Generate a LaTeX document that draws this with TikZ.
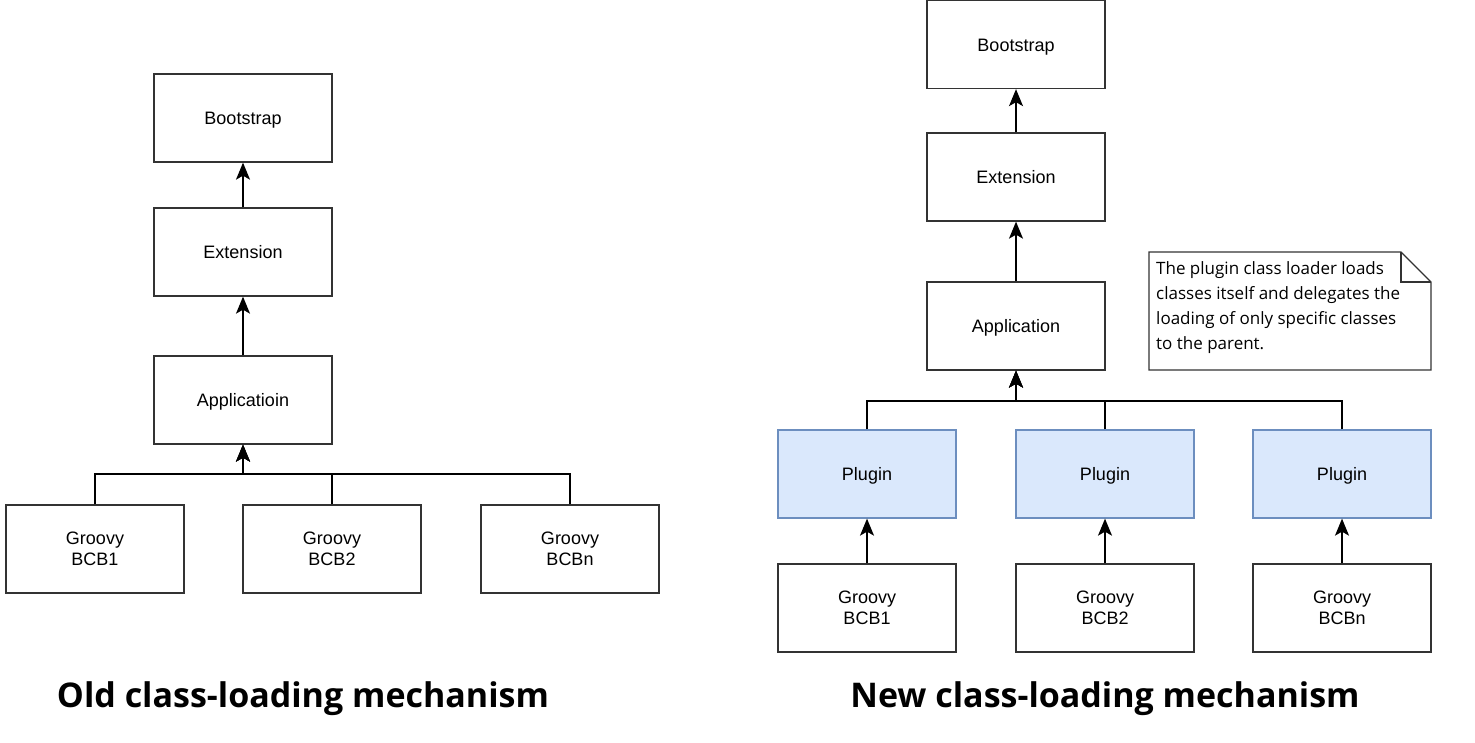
\documentclass[tikz,border=0pt]{standalone}
\usepackage{fontspec}
\setmainfont{Liberation Sans}
\newfontfamily\notefont{Open Sans}
\newfontfamily\titlefont{Open Sans}
\usetikzlibrary{arrows.meta,calc}
\begin{document}
\begin{tikzpicture}[x=1pt,y=-1pt,
  box/.style={draw=black!80,line width=1.3pt,minimum width=178pt,minimum height=88pt,inner sep=0pt,align=center,font=\fontsize{18}{21}\selectfont},
  one/.style={box,text height=13pt,text depth=0pt},
  plug/.style={one,draw={rgb,255:red,108;green,142;blue,191},fill={rgb,255:red,218;green,232;blue,252}},
  arr/.style={line width=1.3pt,-{Stealth[length=17pt,width=14pt,inset=4pt]}},
  ttl/.style={font=\titlefont\bfseries\fontsize{34}{40}\selectfont}]
\useasboundingbox (0,0) rectangle (1475,742);
% Left
\node[one] (lb) at (243,118) {Bootstrap};
\node[one] (le) at (243,252) {Extension};
\node[one] (la) at (243,400) {Applicatioin};
\node[box] (lg1) at (95,549) {Groovy\\BCB1};
\node[box] (lg2) at (332,549) {Groovy\\BCB2};
\node[box] (lg3) at (570,549) {Groovy\\BCBn};
\coordinate (lbus) at (243,474);
\draw[arr] (le) -- (lb);
\draw[arr] (la) -- (le);
\draw[arr] (lg1.north) |- (lbus) -- (la.south);
\draw[arr] (lg2.north) |- (lbus) -- (la.south);
\draw[arr] (lg3.north) |- (lbus) -- (la.south);
\node[ttl] (lt) at (303,699) {Old class-loading mechanism};
% Right
\node[one] (rb) at (1016,44.5) {Bootstrap};
\node[one] (re) at (1016,177) {Extension};
\node[one] (ra) at (1016,326) {Application};
\node[plug] (p1) at (867,474) {Plugin};
\node[plug] (p2) at (1105,474) {Plugin};
\node[plug] (p3) at (1342,474) {Plugin};
\node[box] (rg1) at (867,608) {Groovy\\BCB1};
\node[box] (rg2) at (1105,608) {Groovy\\BCB2};
\node[box] (rg3) at (1342,608) {Groovy\\BCBn};
\coordinate (rbus) at (1016,401);
\draw[arr] (re) -- (rb);
\draw[arr] (ra) -- (re);
\draw[arr] (p1.north) |- (rbus) -- (ra.south);
\draw[arr] (p2.north) |- (rbus) -- (ra.south);
\draw[arr] (p3.north) |- (rbus) -- (ra.south);
\draw[arr] (rg1) -- (p1);
\draw[arr] (rg2) -- (p2);
\draw[arr] (rg3) -- (p3);
% Note
\draw[line width=1.3pt,draw=black!80,fill=white] (1149,252) -- (1401,252) -- (1431,282) -- (1431,370) -- (1149,370) -- cycle;
\draw[line width=1.3pt,draw=black!80] (1401,252) -- (1401,282) -- (1431,282);
\node[anchor=north west,align=left,inner sep=0pt,font=\notefont\fontsize{17}{25}\selectfont] (note) at (1156,261)
 {The plugin class loader loads\\classes itself and delegates the\\loading of only specific classes\\to the parent.};
\node[ttl] (rt) at (1105,699) {New class-loading mechanism};
\end{tikzpicture}
\end{document}
